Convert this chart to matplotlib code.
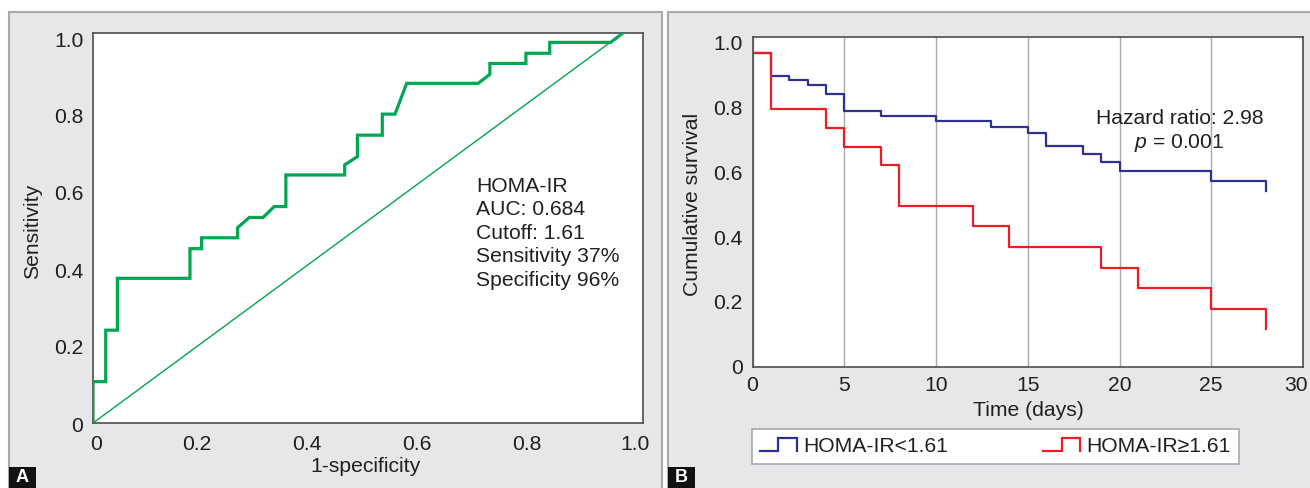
import matplotlib
matplotlib.use("Agg")
import matplotlib.pyplot as plt
from matplotlib.patches import Rectangle
from matplotlib.lines import Line2D
from matplotlib.legend_handler import HandlerBase
from matplotlib.transforms import ScaledTranslation

plt.rcParams['font.family'] = ['Liberation Sans', 'DejaVu Sans']
plt.rcParams['mathtext.fontset'] = 'custom'
plt.rcParams['mathtext.it'] = 'Liberation Sans:italic'
plt.rcParams['mathtext.rm'] = 'Liberation Sans'

# ---- data ----
# panel A: ROC curve of HOMA-IR
roc_fpr = [0, 0, 0.024, 0.024, 0.046, 0.046, 0.183, 0.183, 0.205, 0.205,
           0.273, 0.273, 0.295, 0.321, 0.342, 0.364, 0.364, 0.475, 0.475,
           0.499, 0.499, 0.546, 0.546, 0.570, 0.592, 0.727, 0.749, 0.749,
           0.817, 0.817, 0.862, 0.862, 0.977, 1.0]
roc_tpr = [0, 0.106, 0.106, 0.238, 0.238, 0.371, 0.371, 0.447, 0.447, 0.475,
           0.475, 0.501, 0.527, 0.527, 0.555, 0.555, 0.636, 0.636, 0.662,
           0.683, 0.738, 0.738, 0.792, 0.792, 0.871, 0.871, 0.894, 0.922,
           0.922, 0.948, 0.948, 0.976, 0.976, 1.0]
roc_text = "HOMA-IR\nAUC: 0.684\nCutoff: 1.61\nSensitivity 37%\nSpecificity 96%"
roc_ticks = [0, 0.2, 0.4, 0.6, 0.8, 1.0]
roc_ticklabels = ["0", "0.2", "0.4", "0.6", "0.8", "1.0"]

# panel B: Kaplan-Meier curves
low_days = [0, 1, 2, 3, 4, 5, 7, 10, 13, 15, 16, 18, 19, 20, 25, 28]
low_surv = [0.97, 0.897, 0.884, 0.869, 0.843, 0.789, 0.773, 0.759, 0.740,
            0.720, 0.680, 0.657, 0.632, 0.605, 0.574, 0.543]
high_days = [0, 1, 4, 5, 7, 8, 12, 14, 19, 21, 25, 28]
high_surv = [0.97, 0.795, 0.738, 0.679, 0.622, 0.497, 0.434, 0.369, 0.305,
             0.242, 0.178, 0.115]
group_labels = ["HOMA-IR<1.61", "HOMA-IR\u22651.61"]
km_xticks = [0, 5, 10, 15, 20, 25, 30]
km_yticks = [0, 0.2, 0.4, 0.6, 0.8, 1.0]
km_yticklabels = ["0", "0.2", "0.4", "0.6", "0.8", "1.0"]

GREEN = "#00a651"
BLUE = "#2e3192"
RED = "#ed1c24"
TXT = "#231f20"
PANEL = "#e6e7e8"
EDGE = "#a7a9ac"
SPINE = "#4d4d4f"
FS = 15.2

W, H = 1310, 488
fig = plt.figure(figsize=(W / 100, H / 100), dpi=100)


def fx(px):
    return px / W


def fy(py):
    return 1 - py / H


def px_axes(left, top, right, bottom):
    ax = fig.add_axes([fx(left), fy(bottom), (right - left) / W, (bottom - top) / H])
    ax.set_zorder(2)
    return ax


def nudge(label, dx_px, dy_px):
    # shift a tick label by a few pixels (dpi 100)
    label.set_transform(label.get_transform() +
                        ScaledTranslation(dx_px / 100, -dy_px / 100, fig.dpi_scale_trans))


# panel backgrounds
for x0, x1 in [(8.5, 662), (668, 1315)]:
    fig.patches.append(Rectangle((fx(x0), fy(500)), fx(x1 - x0), (500 - 11.7) / H,
                                 transform=fig.transFigure, facecolor=PANEL,
                                 edgecolor=EDGE, lw=1.5, zorder=-2))

# panel letters
for x0, letter in [(9, "A"), (668, "B")]:
    fig.patches.append(Rectangle((fx(x0), fy(490)), 27 / W, 23 / H,
                                 transform=fig.transFigure, facecolor="#111111",
                                 edgecolor="none", zorder=-1))
    fig.text(fx(x0 + 13.5), fy(478), letter, color="white", fontsize=13,
             fontweight="bold", ha="center", va="center")


def style(ax):
    ax.set_facecolor("white")
    for s in ax.spines.values():
        s.set_color(SPINE)
        s.set_linewidth(1.2)
    ax.tick_params(length=0, labelsize=FS, labelcolor=TXT, pad=7)


# ---- panel A ----
ax1 = px_axes(93, 33, 643, 423)
style(ax1)
ax1.plot(roc_fpr, roc_tpr, color=GREEN, lw=2.3, solid_joinstyle="miter", zorder=3)
ax1.plot([0, 1], [0, 1], color=GREEN, lw=1.0, zorder=2)
ax1.set_xlim(0, 1.038)
ax1.set_ylim(0, 1.0)
ax1.set_xticks(roc_ticks)
ax1.set_xticklabels(roc_ticklabels)
ax1.set_yticks(roc_ticks)
ax1.set_yticklabels(roc_ticklabels)
for i, lab in enumerate(ax1.get_xticklabels()):
    nudge(lab, [3, -2, 2, 6, 10, 12][i], 2)
for i, lab in enumerate(ax1.get_yticklabels()):
    nudge(lab, 0, [2, 2, 3, 4, 5, 7][i])
ax1.text(0.723, 0.632, roc_text, fontsize=FS, color=TXT, va="top", ha="left",
         linespacing=1.31)
fig.text(fx(33), fy(231), "Sensitivity", rotation=90, fontsize=FS, color=TXT,
         ha="center", va="center")
fig.text(fx(366), fy(466), "1-specificity", fontsize=FS, color=TXT,
         ha="center", va="center")

# ---- panel B ----
ax2 = px_axes(752.5, 37, 1303, 366.5)
style(ax2)
ax2.step(low_days, low_surv, where="post", color=BLUE, lw=1.6, zorder=3)
ax2.step(high_days, high_surv, where="post", color=RED, lw=1.6, zorder=3)
ax2.set_xlim(0, 30)
ax2.set_ylim(0, 1.018)
ax2.set_xticks(km_xticks)
ax2.set_yticks(km_yticks)
ax2.set_yticklabels(km_yticklabels)
nudge(ax2.get_xticklabels()[-1], -7, 0)
ax2.grid(axis="x", color=EDGE, lw=1.0, zorder=1)
ax2.set_axisbelow(True)
ax2.text(23.27, 0.765, "Hazard ratio: 2.98", fontsize=FS, color=TXT,
         ha="center", va="center")
ax2.text(23.27, 0.69, "$p$ = 0.001", fontsize=FS, color=TXT,
         ha="center", va="center")
fig.text(fx(693), fy(204), "Cumulative survival", rotation=90, fontsize=FS,
         color=TXT, ha="center", va="center")
fig.text(fx(1028), fy(410), "Time (days)", fontsize=FS, color=TXT,
         ha="center", va="center")


class StepHandler(HandlerBase):
    def create_artists(self, legend, orig_handle, xdescent, ydescent, width,
                       height, fontsize, trans):
        x0 = -xdescent
        y0 = -ydescent + height * 0.05
        y1 = -ydescent + height * 0.95
        xs = [x0, x0 + width * 0.5, x0 + width * 0.5, x0 + width, x0 + width]
        ys = [y0, y0, y1, y1, y0]
        ln = Line2D(xs, ys, color=orig_handle.get_color(), lw=1.6,
                    solid_joinstyle="miter")
        ln.set_transform(trans)
        return [ln]


handles = [Line2D([], [], color=BLUE), Line2D([], [], color=RED)]
leg = fig.legend(handles, group_labels, loc="upper left",
                 bbox_to_anchor=(fx(752), fy(466.7), 486.5 / W, 37.4 / H),
                 bbox_transform=fig.transFigure, mode="expand", ncol=2,
                 fontsize=FS, frameon=True, fancybox=False, framealpha=1,
                 borderaxespad=0, borderpad=0.36, handlelength=1.75,
                 handletextpad=0.3, handler_map={Line2D: StepHandler()})
leg.get_frame().set_edgecolor(EDGE)
leg.get_frame().set_linewidth(1.2)
leg.set_zorder(3)
for t in leg.get_texts():
    t.set_color(TXT)

fig.savefig("out.png", dpi=100)
